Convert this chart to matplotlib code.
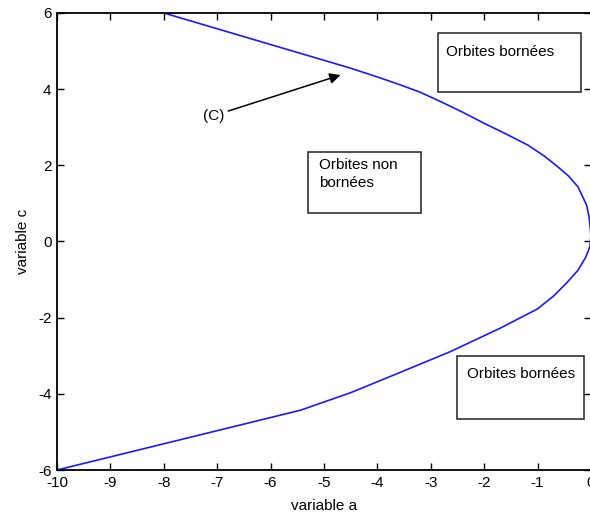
import matplotlib.pyplot as plt
from matplotlib.patches import Rectangle

plt.rcParams['font.family'] = ['Liberation Sans', 'DejaVu Sans']
plt.rcParams['axes.unicode_minus'] = False

# Courbe (C) : variable a en fonction de variable c
a_curve = [-10.0, -5.44, -4.5, -3.56, -2.63, -1.69, -1.0, -0.69,
           -0.45, -0.24, -0.1, -0.02, 0.0, -0.03, -0.08, -0.24, -0.42, -0.62,
           -0.88, -1.18, -1.6, -2.01, -2.41, -2.81, -3.2, -3.565, -4.0, -4.5, -8.0]
c_curve = [-6.0, -4.43, -3.97, -3.43, -2.89, -2.27, -1.77, -1.42,
           -1.08, -0.75, -0.42, -0.14, 0.15, 0.6, 0.95, 1.43, 1.72, 1.96,
           2.25, 2.53, 2.83, 3.11, 3.4, 3.67, 3.92, 4.11, 4.32, 4.55, 6.0]

x_ticks = [-10, -9, -8, -7, -6, -5, -4, -3, -2, -1, 0]
y_ticks = [-6, -4, -2, 0, 2, 4, 6]

fig = plt.figure(figsize=(5.9, 5.19), dpi=100)
ax = fig.add_axes([0.0966, 0.0944, 0.905, 0.8806])

ax.plot(a_curve, c_curve, color='#1a1aff', lw=1.2)

# zones
ax.add_patch(Rectangle((-2.87, 3.93), 2.68, 1.54, fill=False, ec='#222222', lw=1.1))
ax.text(-2.72, 4.98, 'Orbites bornées', fontsize=11, va='center', ha='left')

ax.add_patch(Rectangle((-5.29, 0.75), 2.10, 1.60, fill=False, ec='#222222', lw=1.1))
ax.text(-5.10, 2.2, 'Orbites non\nbornées', fontsize=11, va='top', ha='left',
        linespacing=1.4)

ax.add_patch(Rectangle((-2.50, -4.66), 2.37, 1.65, fill=False, ec='#222222', lw=1.1))
ax.text(-2.33, -3.48, 'Orbites bornées', fontsize=11, va='center', ha='left')

# fleche (C)
ax.annotate('(C)', xy=(-4.69, 4.37), xytext=(-6.87, 3.30), fontsize=11,
            ha='right', va='center',
            arrowprops=dict(arrowstyle='-|>', color='black', lw=1.1,
                            mutation_scale=16, shrinkA=1, shrinkB=0))

ax.set_xlim(-10, 0)
ax.set_ylim(-6, 6)
ax.set_xticks(x_ticks)
ax.set_yticks(y_ticks)
ax.tick_params(direction='in', top=True, right=True, length=5, width=1,
               labelsize=11, pad=4)
for s in ax.spines.values():
    s.set_linewidth(1.3)

ax.set_xlabel('variable a', fontsize=11, labelpad=7)
ax.set_ylabel('variable c', fontsize=11, labelpad=6)

fig.savefig('out.png', dpi=100)
